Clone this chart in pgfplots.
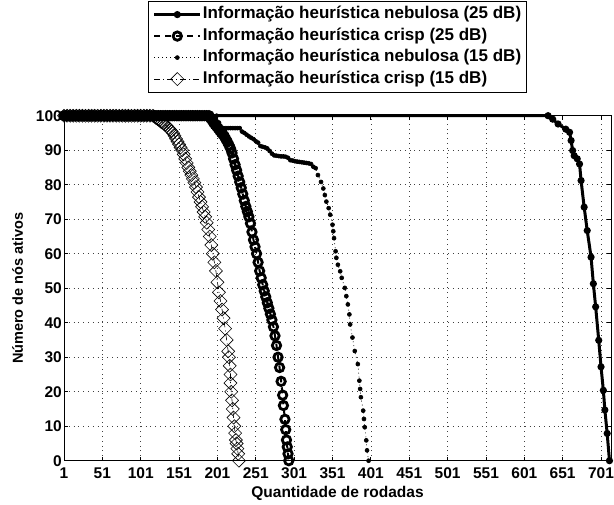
\documentclass[border=0pt]{standalone}
\usepackage{fontspec}
\setmainfont{Liberation Sans Bold}
\usepackage{pgfplots}
\pgfplotsset{compat=1.18}

\begin{document}
\begin{tikzpicture}
\begin{axis}[
  scale only axis,
  width=547bp, height=345bp,
  xmin=1, xmax=714, ymin=0, ymax=100,
  xtick={1,51,...,701},
  ytick={0,10,...,100},
  clip=false,
  grid=major,
  grid style={black!75, line width=0.6bp, dash pattern=on 0.8bp off 4bp},
  axis line style={line width=1bp},
  major tick length=4bp,
  every tick/.style={black, line width=0.8bp},
  tick align=inside,
  /pgf/number format/assume math mode=true,
  ticklabel style={font=\fontsize{15.5bp}{18bp}\selectfont},
  yticklabel style={anchor=east, inner sep=0pt, xshift=-2bp},
  xticklabel style={anchor=north, inner sep=0pt, yshift=-7bp},
  xlabel={Quantidade de rodadas},
  ylabel={Número de nós ativos},
  xlabel style={font=\fontsize{15.5bp}{18bp}\selectfont, at={(axis description cs:0.5,-0.108)}, anchor=base, inner sep=0pt},
  ylabel style={font=\fontsize{14.5bp}{18bp}\selectfont, at={(axis description cs:-0.0747,0.5)}, anchor=south, inner sep=0pt, text depth=0pt},
  legend style={at={(0.5,1.0658)}, anchor=south, draw=black, line width=0.8bp,
    font=\fontsize{17bp}{20bp}\selectfont, inner xsep=4bp, inner ysep=4.5bp,
    row sep=3.5bp, nodes={inner sep=1bp, text height=12bp, text depth=4bp}},
  legend cell align=left,
  legend image code/.code={\draw[mark repeat=2, mark phase=2, #1] plot coordinates {(2bp,0bp) (25bp,0bp) (48bp,0bp)};},
]
\coordinate (bl) at (rel axis cs:0,0);
\coordinate (tr) at (rel axis cs:1,1);
% nebulosa 25 dB
\addplot[black, line width=3bp, mark=*, mark size=2bp] coordinates {
  (1,100) (632,100) (638,99) (645,97.6) (655,96.1) (660,95.2) (662,92.8) (664,89.9)
  (666,88.4) (670,87.5) (673,86) (675,81.2) (679,73.5) (683,66.7) (688,59) (691,51.3)
  (694,44.6) (698,34.9) (701,27.2) (704,20.4) (706,14.7) (709,7.9) (712,0)
};
\addlegendentry{Informação heurística nebulosa (25 dB)}
% crisp 25 dB
\addplot[black, line width=2bp, dash pattern=on 6bp off 5bp, mark=o, mark size=4.2bp, mark options={solid, line width=2.8bp}] coordinates {
  (1,100) (4,100) (7,100) (10,100) (13,100) (16,100) (19,100) (22,100) (25,100) (28,100)
  (31,100) (34,100) (37,100) (40,100) (43,100) (46,100) (49,100) (52,100) (55,100) (58,100)
  (61,100) (64,100) (67,100) (70,100) (73,100) (76,100) (79,100) (82,100) (85,100) (88,100)
  (91,100) (94,100) (97,100) (100,100) (103,100) (106,100) (109,100) (112,100) (115,100) (118,100)
  (121,100) (124,100) (127,100) (130,100) (133,100) (136,100) (139,100) (142,100) (145,100) (148,100)
  (151,100) (154,100) (157,100) (160,100) (163,100) (166,100) (169,100) (172,100) (175,100) (178,100)
  (181,100) (184,100) (187,100) (190,100)
  (192,99.3) (194,98.7) (196,98) (198,97.4) (200,96.9) (202,96.3) (204,95.7) (206,95.1)
  (208,94.6) (210,94) (212,93.2) (214,92.4) (216,91.5) (218,90.5) (220,89.2) (222,87.5)
  (224,85.8) (226,84.2) (228,82.5) (230,80.8) (232,79.1) (234,77.3) (236,75.4) (238,73.7)
  (240,72.2) (242,70.7) (244,68.8) (246,66.3) (248,64) (250,62) (252,60) (254,57.5)
  (256,55) (258,53) (260,51) (262,49.2) (264,47.5) (266,45.8) (268,44.2) (270,42.5)
  (272,40.8) (274,38.8) (276,36.2) (278,33.4) (280,30) (282,27)
  (284,23) (286,19) (287,16) (289,12) (290,9) (291,6) (292,4) (293,2) (294,0)
};
\addlegendentry{Informação heurística crisp (25 dB)}
% nebulosa 15 dB
\addplot[black, line width=0.6bp, dash pattern=on 1bp off 3bp, mark=*, mark size=2bp, mark options={solid}] coordinates {
  (1,100) (200,100) (203,98) (206,96.4) (209,96.4) (212,96.4) (215,96.4) (218,96.4)
  (221,96.4) (224,96.4) (227,96.4) (230,96.4) (233,95.4) (236,95) (239,94.5) (242,94)
  (245,93.6) (248,93.2) (251,92.6) (254,92.2) (257,91.2) (260,91) (263,90.8) (266,90.5)
  (269,89.8) (272,89) (275,88.5) (278,88.4) (281,88.3) (284,88.2) (287,88.2) (290,88.1)
  (293,87.8) (296,87.1) (299,87) (302,86.8) (305,86.7) (308,86.6) (311,86.5) (314,86.4)
  (317,86.3) (320,86.2) (323,86) (326,85.2) (329,84.8)
  (332,82.8) (336,80.8) (339,78.9) (341,77) (343,75.1) (346,73.2) (348,71.3) (351,68.4)
  (352,66.5) (353,64.5) (355,60.7) (356,58.8) (358,56.8) (361,54.9) (363,53) (367,50.1)
  (369,47.7) (371,45.3) (373,42.4) (374,39.5) (377,35.7) (380,31.8) (384,28) (386,23.2)
  (387,20.8) (388,18.4) (391,14.5) (392,12.1) (393,9.7) (395,5.9) (396,3) (398,0)
};
\addlegendentry{Informação heurística nebulosa (15 dB)}
% crisp 15 dB
\addplot[black, line width=0.6bp, dash pattern=on 6bp off 3bp on 1bp off 3bp, mark=square, mark size=4.6bp, mark options={solid, rotate=45, line width=0.6bp}] coordinates {
  (1,100) (5,100) (9,100) (13,100) (17,100) (21,100) (25,100) (29,100) (33,100) (37,100)
  (41,100) (45,100) (49,100) (53,100) (57,100) (61,100) (65,100) (69,100) (73,100) (77,100)
  (81,100) (85,100) (89,100) (93,100) (97,100) (101,100) (105,100) (109,100) (113,100) (117,100)
  (119,99.7) (121,99.3) (123,99) (125,98.7) (127,98.3) (129,98) (131,97.7) (133,97.3)
  (135,97) (137,96.5) (139,96) (141,95.5) (143,95) (145,94.2) (147,93.3) (149,92.5)
  (151,91.7) (153,90.8) (155,90) (157,88.8) (159,87.5) (161,86.3) (163,85) (165,83.9)
  (167,82.8) (169,81.7) (171,80.6) (173,79.3) (175,77.9) (177,76.4) (179,75) (181,73.6)
  (183,72.1) (185,70.7) (187,69) (189,67) (191,65) (193,62.5) (195,60) (197,57.5)
  (199,55) (201,51.7) (203,48.8) (205,46.3) (207,43.8) (209,41.3) (211,38.3) (213,35)
  (215,31.7) (216,30) (217,27.5) (218,25) (218,22.5) (219,20) (220,17.5) (221,15)
  (222,12.5) (223,10) (224,8) (225,6) (226,5) (227,3.5) (228,2) (229,0)
};
\addlegendentry{Informação heurística crisp (15 dB)}
\end{axis}
\pgfresetboundingbox
\path[use as bounding box] ([shift={(-64bp,-43.3bp)}]bl) rectangle ([shift={(3bp,115.7bp)}]tr);
\end{tikzpicture}
\end{document}
